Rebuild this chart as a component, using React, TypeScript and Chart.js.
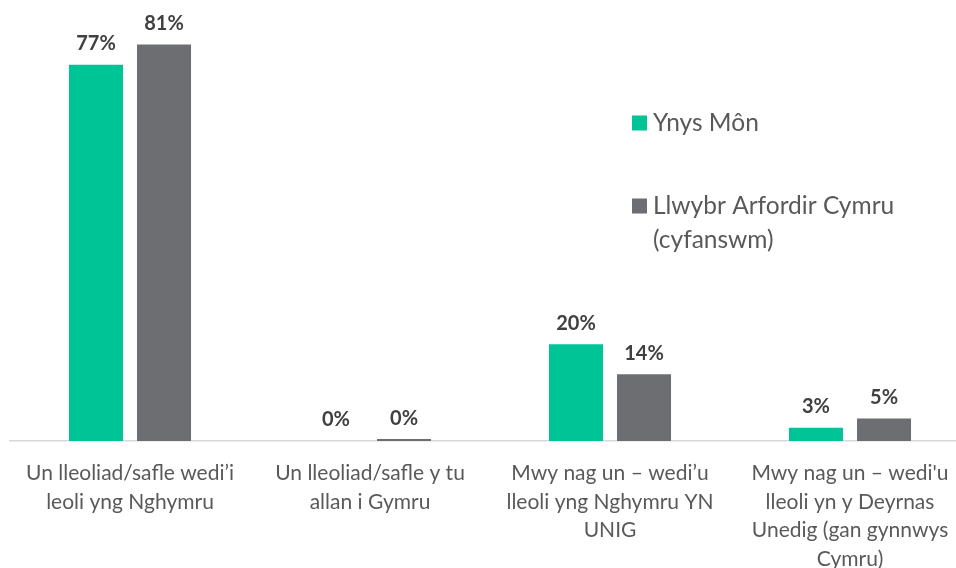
import React, { useEffect, useRef } from "react";
import { Chart, registerables } from "chart.js";

Chart.register(...registerables);

const categories: string[][] = [
  ["Un lleoliad/safle wedi’i", "leoli yng Nghymru"],
  ["Un lleoliad/safle y tu", "allan i Gymru"],
  ["Mwy nag un – wedi’u", "lleoli yng Nghymru YN", "UNIG"],
  ["Mwy nag un – wedi'u", "lleoli yn y Deyrnas", "Unedig (gan gynnwys", "Cymru)"],
];

const seriesNames: string[][] = [
  ["Ynys Môn"],
  ["Llwybr Arfordir Cymru", "(cyfanswm)"],
];

const ynysMon: number[] = [76.6, 0, 19.7, 2.7];
const llwybrCymru: number[] = [80.7, 0.4, 13.6, 4.6];

const colors = ["#00C495", "#6D6E71"];

const FONT = "Lato, 'Open Sans', sans-serif";

const valueLabels = {
  id: "valueLabels",
  afterDatasetsDraw(chart: any) {
    const ctx = chart.ctx;
    ctx.save();
    ctx.font = `bold 20px ${FONT}`;
    ctx.fillStyle = "#404040";
    ctx.textAlign = "center";
    ctx.textBaseline = "middle";
    chart.data.datasets.forEach((ds: any, i: number) => {
      const meta = chart.getDatasetMeta(i);
      meta.data.forEach((bar: any, j: number) => {
        const v = ds.data[j];
        ctx.fillText(`${Math.round(v)}%`, bar.x, bar.y - 21);
      });
    });
    ctx.restore();
  },
};

const sideLegend = {
  id: "sideLegend",
  afterDraw(chart: any) {
    const ctx = chart.ctx;
    ctx.save();
    const boxX = 632;
    const rows = [123, 206];
    const lineH = 34;
    ctx.font = `24.5px ${FONT}`;
    ctx.textBaseline = "middle";
    ctx.textAlign = "left";
    seriesNames.forEach((lines, i) => {
      const cy = rows[i];
      ctx.fillStyle = colors[i];
      ctx.fillRect(boxX, cy - 7.5, 15, 15);
      ctx.fillStyle = "#595959";
      lines.forEach((t, k) => {
        ctx.fillText(t, boxX + 21, cy + k * lineH);
      });
    });
    ctx.restore();
  },
};

export default function App() {
  const ref = useRef<HTMLCanvasElement | null>(null);

  useEffect(() => {
    if (!ref.current) return;
    const chart = new Chart(ref.current, {
      type: "bar",
      data: {
        labels: categories,
        datasets: [
          {
            label: seriesNames[0].join(" "),
            data: ynysMon,
            backgroundColor: colors[0],
            barPercentage: 0.794,
            categoryPercentage: 0.567,
          },
          {
            label: seriesNames[1].join(" "),
            data: llwybrCymru,
            backgroundColor: colors[1],
            barPercentage: 0.794,
            categoryPercentage: 0.567,
          },
        ],
      },
      options: {
        animation: false,
        responsive: false,
        maintainAspectRatio: false,
        layout: { padding: { left: 10, right: 0, top: 23.5, bottom: 0 } },
        plugins: {
          legend: { display: false },
          tooltip: { enabled: false },
        },
        scales: {
          y: {
            display: false,
            min: 0,
            max: 85,
          },
          x: {
            grid: { display: false, drawTicks: false },
            border: { display: true, color: "#D9D9D9", width: 1.5 },
            ticks: {
              color: "#595959",
              font: { family: FONT, size: 21, lineHeight: 1.357 },
              padding: 18,
              maxRotation: 0,
              autoSkip: false,
            },
          },
        },
      },
      plugins: [valueLabels, sideLegend],
    });
    return () => chart.destroy();
  }, []);

  return (
    <div
      style={{
        position: "fixed",
        left: 0,
        top: 0,
        width: 956,
        height: 568,
        overflow: "hidden",
        background: "#fff",
      }}
    >
      <canvas ref={ref} width={970} height={591} style={{ width: 970, height: 591, display: "block" }} />
    </div>
  );
}
